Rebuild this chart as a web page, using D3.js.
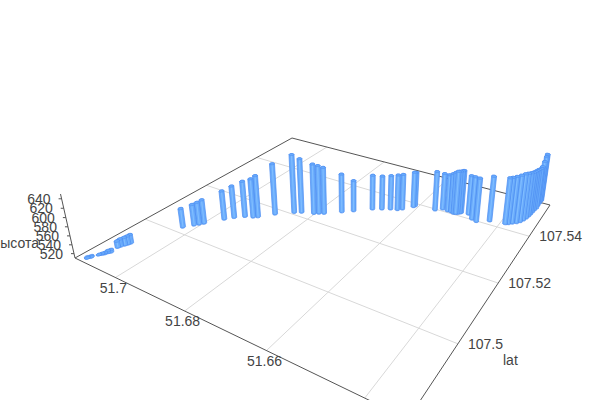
<!DOCTYPE html><html><head><meta charset="utf-8"><script src="https://cdn.jsdelivr.net/npm/d3@7"></script><style>body{margin:0;background:#fff}text{font-family:"Liberation Sans",Arial,sans-serif;fill:#444;font-size:14px}</style></head><body><svg id="s" width="600" height="400"></svg><script>
// Data
const lng=[51.7114,51.7110,51.7100,51.7096,51.7092,51.7090,51.7086,51.7089,51.7087,51.7083,51.7080,51.7078,51.7029,51.7013,51.7006,51.6999,51.6971,51.6956,51.6937,51.6918,51.6909,51.6882,51.6847,51.6832,51.6803,51.6793,51.6782,51.6749,51.6727,51.6692,51.6672,51.6654,51.6638,51.6629,51.6611,51.6609,51.6558,51.6544,51.6530,51.6521,51.6513,51.6508,51.6504,51.6500,51.6498,51.6480,51.6464,51.6451,51.6425,51.6389,51.6383,51.6376,51.6368,51.6362,51.6358,51.6355,51.6353,51.6352,51.6351,51.6350,51.6348,51.6349,51.6349,51.6349,51.6349];
const lat=[107.4830,107.4837,107.4849,107.4854,107.4858,107.4864,107.4869,107.4889,107.4895,107.4903,107.4909,107.4915,107.5022,107.5042,107.5051,107.5060,107.5098,107.5116,107.5133,107.5141,107.5148,107.5179,107.5209,107.5219,107.5230,107.5237,107.5243,107.5271,107.5290,107.5321,107.5333,107.5344,107.5350,107.5359,107.5383,107.5389,107.5396,107.5410,107.5408,107.5408,107.5405,107.5407,107.5410,107.5414,107.5418,107.5420,107.5403,107.5398,107.5417,107.5424,107.5428,107.5435,107.5442,107.5451,107.5462,107.5474,107.5486,107.5497,107.5509,107.5521,107.5533,107.5547,107.5561,107.5573,107.5579];
const alt=[508,508,510,511,512,514,515,524,526,527,528,529,554,559,562,566,578,586,595,602,609,631,649,639,629,625,621,602,584,593,591,592,595,595,595,593,604,597,598,603,609,612,612,612,612,603,611,613,616,618,619,620,622,623,621,618,615,613,611,609,607,606,613,620,624];
const lngTicks=[51.7,51.68,51.66];
const lngGrid=[51.7,51.68,51.66,51.64];
const latTicks=[107.5,107.52,107.54];
const altTicks=[520,540,560,580,600,620,640];
const lngRange=[51.6323,51.7133];
const latRange=[107.4814,107.5565];
const altRange=[510,650];

// Camera: floor corners fix a homography, verticals converge on a vanishing point
const floor=[[0,0,75,258],[0,1,292,138],[1,1,550,205],[1,0,408,419]];
const vp=[356,1500];
const U=d3.scaleLinear(lngRange,[1,0]),V=d3.scaleLinear(latRange,[0,1]),Z=d3.scaleLinear(altRange,[0,-64/1306]);
function solve(A,b){const n=b.length;A=A.map((r,i)=>[...r,b[i]]);for(let i=0;i<n;i++){let m=i;for(let k=i;k<n;k++)if(Math.abs(A[k][i])>Math.abs(A[m][i]))m=k;[A[i],A[m]]=[A[m],A[i]];for(let k=0;k<n;k++)if(k!=i){const f=A[k][i]/A[i][i];for(let j=i;j<=n;j++)A[k][j]-=f*A[i][j];}}return A.map((r,i)=>r[n]/r[i]);}
let M=[],B=[];floor.forEach(([u,v,x,y])=>{M.push([u,v,1,0,0,0,-u*x,-v*x]);B.push(x);M.push([0,0,0,u,v,1,-u*y,-v*y]);B.push(y);});
const h=solve(M,B);
function proj(lo,la,al){const u=U(lo),v=V(la),W=h[6]*u+h[7]*v+1,X=h[0]*u+h[1]*v+h[2],Y=h[3]*u+h[4]*v+h[5],t=Z(al);return [(X+t*vp[0])/(W+t),(Y+t*vp[1])/(W+t),W];}

const svg=d3.select('#s');
const line=d3.line(d=>d[0],d=>d[1]);
const seg=(a,b)=>svg.append('path').attr('d',line([a,b])).attr('fill','none');
const a0=altRange[0];
const [lo0,lo1]=lngRange,[la0,la1]=latRange;
// grid
lngGrid.forEach(t=>seg(proj(t,la0,a0),proj(t,la1,a0)).attr('stroke','#d8d8d8'));
latTicks.forEach(t=>seg(proj(lo0,t,a0),proj(lo1,t,a0)).attr('stroke','#d8d8d8'));
// floor edges
[[[lo1,la0],[lo1,la1]],[[lo1,la1],[lo0,la1]],[[lo1,la0],[lo0,la0]],[[lo0,la0],[lo0,la1]]].forEach(([p,q])=>seg(proj(p[0],p[1],a0),proj(q[0],q[1],a0)).attr('stroke','#555'));
// altitude axis
seg(proj(lo1,la0,altRange[0]),proj(lo1,la0,altRange[1])).attr('stroke','#555');
altTicks.forEach(t=>{const p=proj(lo1,la0,t);seg([p[0]-3,p[1]],[p[0],p[1]]).attr('stroke','#555');
 svg.append('text').attr('x',p[0]-11).attr('y',p[1]+5).attr('text-anchor','end').text(t);});
svg.append('text').attr('x',39).attr('y',248).attr('text-anchor','end').text('высота');
// tick labels
lngTicks.forEach(t=>{const p=proj(t,la0,a0);svg.append('text').attr('x',p[0]-2).attr('y',p[1]+15).attr('text-anchor','middle').text(t);});
latTicks.forEach(t=>{const p=proj(lo0,t,a0);svg.append('text').attr('x',p[0]+10).attr('y',p[1]+5).text(t);});
svg.append('text').attr('x',503).attr('y',365).text('lat');
// bars as prisms, far to near
const r=0.00058,sides=d3.range(10).map(i=>i/10*2*Math.PI);
const order=d3.range(lng.length).sort((a,b)=>proj(lng[b],lat[b],a0)[2]-proj(lng[a],lat[a],a0)[2]);
const g=svg.append('g').attr('stroke-linejoin','round');
order.forEach(i=>{
 const ring=al=>sides.map(t=>proj(lng[i]+r*Math.cos(t),lat[i]+r*Math.sin(t),al));
 const lo=ring(a0),hi=ring(alt[i]);
 const hull=d3.polygonHull([...lo,...hi].map(p=>[p[0],p[1]]));
 g.append('path').attr('d',line(hull)+'Z').attr('fill','#69abfb').attr('stroke','#4a8bf0').attr('stroke-width',0.7);
 g.append('path').attr('d',line([proj(lng[i],lat[i],a0),proj(lng[i],lat[i],alt[i])])).attr('stroke','#80bdff').attr('stroke-width',1.2).attr('fill','none');
 g.append('path').attr('d',line(hi)+'Z').attr('fill','#69abfb').attr('stroke','#4a8bf0').attr('stroke-width',0.5);
});
</script></body></html>
